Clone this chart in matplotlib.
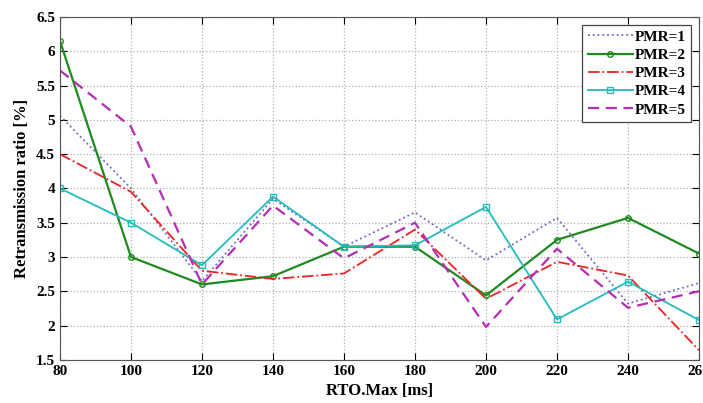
import matplotlib.pyplot as plt
import numpy as np

rto_max = [80, 100, 120, 140, 160, 180, 200, 220, 240, 260]
pmr1 = [5.06, 4.0, 2.65, 3.85, 3.15, 3.65, 2.95, 3.57, 2.32, 2.62]
pmr2 = [6.15, 3.0, 2.6, 2.72, 3.15, 3.15, 2.44, 3.25, 3.57, 3.05]
pmr3 = [4.5, 3.95, 2.8, 2.68, 2.76, 3.4, 2.39, 2.93, 2.73, 1.64]
pmr4 = [4.0, 3.5, 2.88, 3.88, 3.15, 3.17, 3.73, 2.09, 2.64, 2.08]
pmr5 = [5.72, 4.9, 2.6, 3.75, 2.98, 3.5, 1.98, 3.12, 2.26, 2.5]

plt.rcParams['font.family'] = ['Liberation Serif', 'DejaVu Serif']
plt.rcParams['font.weight'] = 'bold'

fig = plt.figure(figsize=(7.03, 4.03), dpi=100)
ax = fig.add_axes([0.0853, 0.107, 0.909, 0.851])

ax.plot(rto_max, pmr1, ':', color='#6a6acd', lw=1.3, label='PMR=1')
ax.plot(rto_max, pmr2, '-', color='#1f8a1f', lw=1.6, marker='o', ms=4,
        mfc='none', mew=1.0, label='PMR=2')
ax.plot(rto_max, pmr3, '-.', color='#ee2222', lw=1.3, label='PMR=3')
ax.plot(rto_max, pmr4, '-', color='#22bcbc', lw=1.3, marker='s', ms=5,
        mfc='none', mew=1.0, label='PMR=4')
ax.plot(rto_max, pmr5, '--', color='#b42db4', lw=1.6, dashes=(5, 3), label='PMR=5')

ax.set_xlim(80, 260)
ax.set_ylim(1.5, 6.5)
ax.set_xticks(np.arange(80, 261, 20))
ax.set_yticks(np.arange(1.5, 6.51, 0.5))
ax.set_yticklabels(['1.5', '2', '2.5', '3', '3.5', '4', '4.5', '5', '5.5', '6', '6.5'])
ax.tick_params(direction='in', top=True, right=True, labelsize=11, length=5)
ax.grid(True, linestyle=':', color='#b0b0b0', lw=0.9)
for s in ax.spines.values():
    s.set_color('#555555')

ax.set_xlabel('RTO.Max [ms]', fontsize=12, fontweight='bold')
ax.set_ylabel('Retransmission ratio [%]', fontsize=12, fontweight='bold')

leg = ax.legend(loc='upper right', fontsize=11, fancybox=False, framealpha=1,
                edgecolor='#444444', handlelength=3.0, borderpad=0.35,
                labelspacing=0.3, handletextpad=0.1, borderaxespad=0.5)
leg.get_frame().set_linewidth(0.9)

fig.savefig('out.png', dpi=100)
